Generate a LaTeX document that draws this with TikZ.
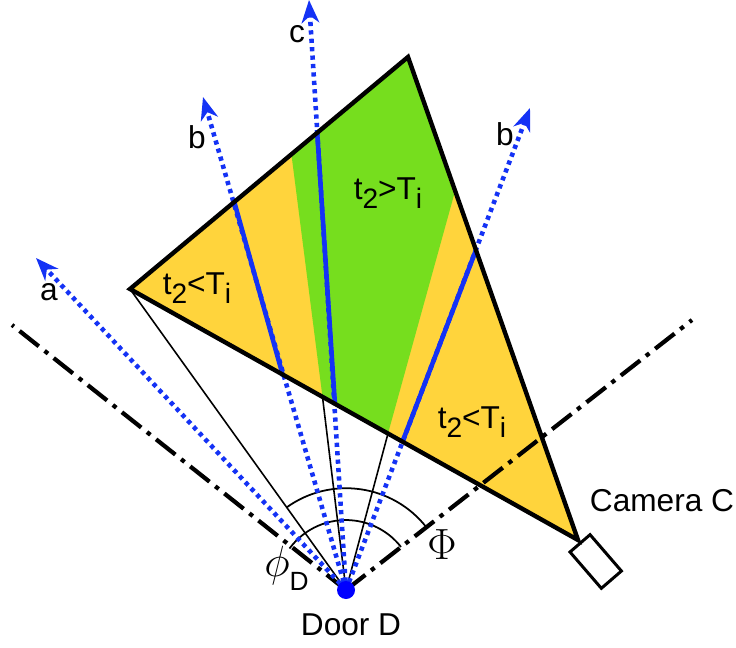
\documentclass[tikz,border=0pt]{standalone}
\usepackage{fontspec}
\setmainfont{Liberation Sans}
\usetikzlibrary{arrows.meta}
\definecolor{zoneyellow}{RGB}{255,212,60}
\definecolor{zonegreen}{RGB}{118,222,30}
\definecolor{rayblue}{RGB}{20,50,245}
\newcommand{\subtext}[1]{\raisebox{-0.3em}{\fontsize{16}{17}\selectfont #1}}
\newcommand{\tcomp}[1]{t\subtext{2}#1T\subtext{i}}
\tikzset{
  lbl/.style={font=\fontsize{18}{20}\selectfont, inner sep=0pt},
  greek/.style={font=\fontsize{24}{26}\selectfont, inner sep=0pt},
  edgeline/.style={line width=2.5pt, line join=miter},
  thinline/.style={line width=0.9pt},
  arcline/.style={line width=1pt},
  axisline/.style={line width=2.4pt, dash pattern=on 14pt off 4.1pt on 2.5pt off 4.2pt},
  rayline/.style={rayblue, line width=2.6pt, dash pattern=on 2.4pt off 2.4pt, -{Stealth[length=13pt, width=10pt, inset=4pt]}},
  solidray/.style={rayblue, line width=2.6pt},
}
\begin{document}
\begin{tikzpicture}[x=0.02cm, y=-0.02cm]
  \useasboundingbox (0,0) rectangle (736,648);
  % triangle corners
  \coordinate (apexL) at (130,289);
  \coordinate (apexT) at (408,57);
  \coordinate (apexC) at (578,540);
  \coordinate (doorC) at (346,590);
  % green zone corners
  \coordinate (greenA) at (291.5,155);
  \coordinate (greenB) at (322.5,397);
  \coordinate (greenC) at (388,433.5);
  \coordinate (greenD) at (454,195);
  % zones
  \fill[zoneyellow] (apexL) -- (apexT) -- (apexC) -- cycle;
  \fill[zonegreen] (greenA) -- (apexT) -- (greenD) -- (greenC) -- (greenB) -- cycle;
  % thin lines and arcs
  \draw[thinline] (doorC) -- (apexL);
  \draw[thinline] (doorC) -- (greenB);
  \draw[thinline] (doorC) -- (greenC);
  \draw[arcline] (286.5,507.5) arc[start angle=125.8, end angle=38, radius=2.04cm];
  \draw[arcline] (289.5,548.5) arc[start angle=143.6, end angle=38, radius=1.4cm];
  % dash-dot axes
  \coordinate (axisL) at (12,325);
  \coordinate (axisR) at (692,320);
  \draw[axisline] (doorC) -- (axisL);
  \draw[axisline] (doorC) -- (axisR);
  % rays
  \coordinate (tipa) at (36,258);
  \coordinate (tipb) at (203,97);
  \coordinate (tipc) at (309,0);
  \coordinate (tipd) at (530,108);
  \foreach \t in {tipa,tipb,tipc,tipd} \draw[rayline] (doorC) -- (\t);
  \coordinate (b1) at (234,201);
  \coordinate (b2) at (283,376);
  \coordinate (c1) at (317,130);
  \coordinate (c2) at (335,405);
  \coordinate (d1) at (476,250);
  \coordinate (d2) at (402,443);
  \draw[solidray] (b1) -- (b2);
  \draw[solidray] (c1) -- (c2);
  \draw[solidray] (d1) -- (d2);
  \draw[edgeline] (apexL) -- (apexT) -- (apexC) -- cycle;
  \node[circle, fill=blue, minimum size=0.36cm, inner sep=0pt] (door) at (doorC) {};
  % camera
  \node[draw, line width=1.7pt, rotate=-49.2, minimum width=0.96cm, minimum height=0.53cm, inner sep=0pt] (camera) at (595.7,561.5) {};
  % labels
  \node[lbl] (labela) at (49,292) {a};
  \node[lbl] (labelb) at (197,137) {b};
  \node[lbl] (labelc) at (297,34) {c};
  \node[lbl] (labeld) at (505,134) {b};
  \node[lbl] (zoneL) at (197,288) {\tcomp{<}};
  \node[lbl] (zoneM) at (388,193) {\tcomp{>}};
  \node[lbl] (zoneR) at (472,422) {\tcomp{<}};
  \node[lbl] (labelcam) at (662,501) {Camera C};
  \node[lbl] (labeldoor) at (351,625) {Door D};
  \node[greek] (labelPhi) at (442,545) {$\Phi$};
  \node[greek, anchor=base west] (labelphi) at (264,576) {$\phi$\raisebox{-8pt}{\fontsize{15}{16}\selectfont D}};
\end{tikzpicture}
\end{document}
